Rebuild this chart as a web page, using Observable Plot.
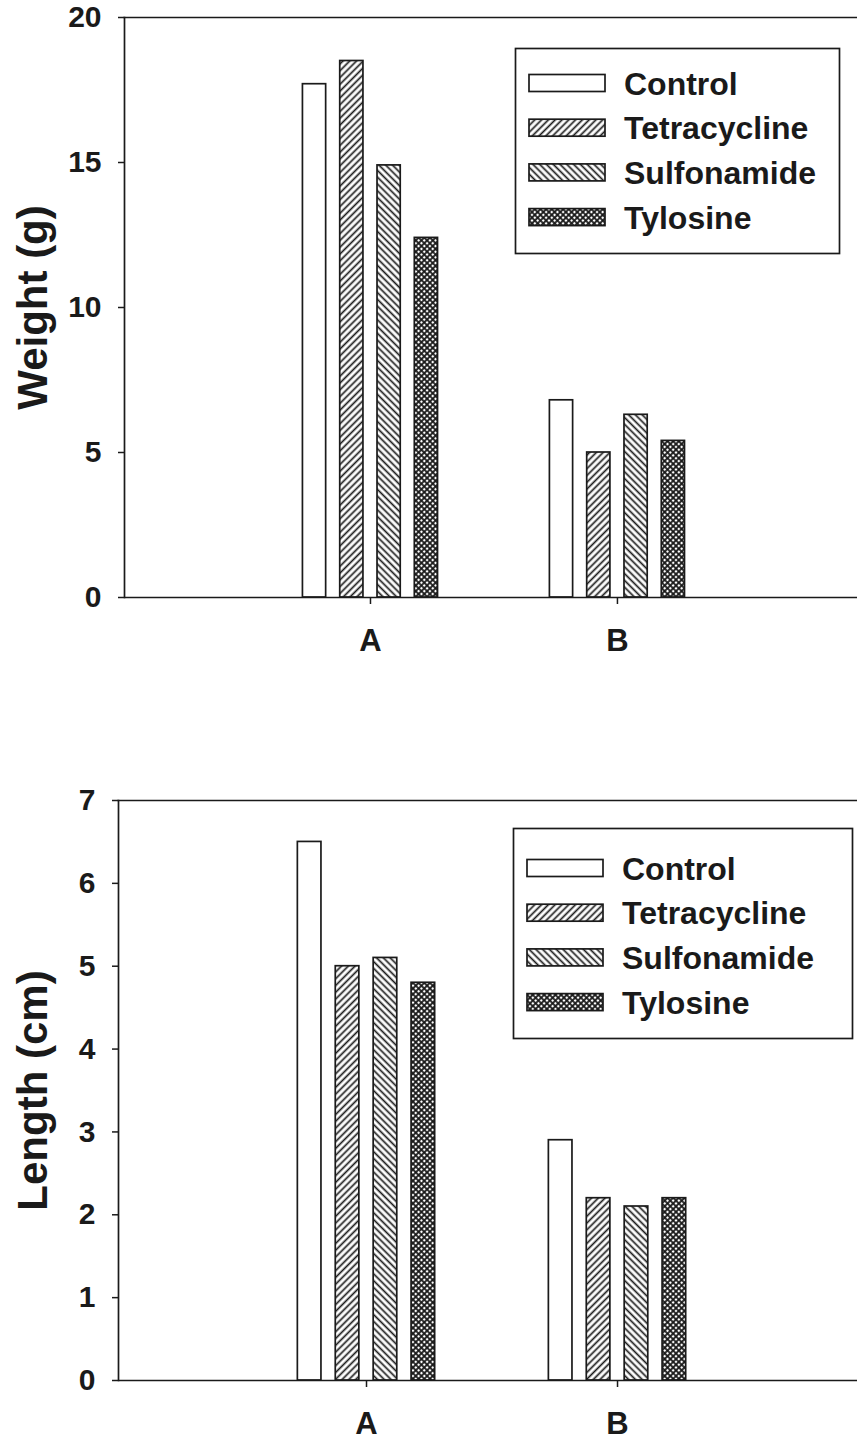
<!DOCTYPE html>
<html><head><meta charset="utf-8">
<script src="https://cdn.jsdelivr.net/npm/d3@7"></script>
<script src="https://cdn.jsdelivr.net/npm/@observablehq/plot@0.6"></script>
<style>
body{margin:0;background:#fff;}
#wrap{position:relative;width:857px;height:1444px;overflow:hidden;background:#fff;}
#wrap > svg.plot{position:absolute;left:0;}
#overlay{position:absolute;left:0;top:0;pointer-events:none;}
</style></head><body>
<svg width="0" height="0" style="position:absolute">
<defs>
<pattern id="p-tetra" patternUnits="userSpaceOnUse" width="4.8" height="4.8" patternTransform="rotate(45)">
<rect width="4.8" height="4.8" fill="#fff"/>
<line x1="2.4" y1="-1" x2="2.4" y2="5.8" stroke="#1a1a1a" stroke-width="1.7"/>
</pattern>
<pattern id="p-sulfa" patternUnits="userSpaceOnUse" width="4.8" height="4.8" patternTransform="rotate(-45)">
<rect width="4.8" height="4.8" fill="#fff"/>
<line x1="2.4" y1="-1" x2="2.4" y2="5.8" stroke="#1a1a1a" stroke-width="1.7"/>
</pattern>
<pattern id="p-tylo" patternUnits="userSpaceOnUse" width="4" height="4" patternTransform="rotate(45)">
<rect width="4" height="4" fill="#1a1a1a"/>
<circle cx="2" cy="2" r="1.25" fill="#fff"/>
</pattern>
</defs></svg>
<div id="wrap"></div>
<script>
// ---- data ----
const groups = ["A", "B"];
const treatments = ["Control", "Tetracycline", "Sulfonamide", "Tylosine"];
const weightA = [17.7, 18.5, 14.9, 12.4];
const weightB = [6.8, 5.0, 6.3, 5.4];
const lengthA = [6.5, 5.0, 5.1, 4.8];
const lengthB = [2.9, 2.2, 2.1, 2.2];
const weightTicks = [0, 5, 10, 15, 20];
const lengthTicks = [0, 1, 2, 3, 4, 5, 6, 7];
const weightLabel = "Weight (g)";
const lengthLabel = "Length (cm)";

const fills = ["#fff", "url(#p-tetra)", "url(#p-sulfa)", "url(#p-tylo)"];
const ink = "#1a1a1a";
const font = "'Liberation Sans', Arial, Helvetica, sans-serif";

function table(valsA, valsB) {
  const rows = [];
  groups.forEach((g, gi) => {
    const vals = gi === 0 ? valsA : valsB;
    treatments.forEach((t, ti) => rows.push({group: g, gi, treatment: t, ti, value: vals[ti]}));
  });
  return rows;
}

function chart({valsA, valsB, ticks, height, marginTop, marginBottom, marginLeft, xDomain, label, titleDx}) {
  const data = table(valsA, valsB);
  const pitch = 0.151, bw = 0.094;
  return Plot.plot({
    width: 857, height, marginTop, marginBottom, marginLeft, marginRight: 0,
    style: {fontFamily: font, fontWeight: "bold", color: ink, background: "transparent", overflow: "visible"},
    x: {type: "linear", domain: xDomain, axis: null},
    y: {domain: [ticks[0], ticks[ticks.length - 1]], axis: null},
    color: {type: "ordinal", domain: treatments, range: fills},
    marks: [
      Plot.rectY(data, {
        x1: d => d.gi + (d.ti - 1.5) * pitch - bw / 2,
        x2: d => d.gi + (d.ti - 1.5) * pitch + bw / 2,
        y1: 0, y2: "value", fill: "treatment", stroke: ink, strokeWidth: 1.7
      }),
      Plot.ruleY([0], {stroke: ink, strokeWidth: 1.7}),
      Plot.frame({anchor: "left", stroke: ink, strokeWidth: 1.7}),
      Plot.frame({anchor: "top", stroke: ink, strokeWidth: 1.7}),
      Plot.axisY({ticks, tickSize: 6, tickPadding: 17, fontSize: 30, fontWeight: "bold", label: null, strokeWidth: 1.5, tickFormat: d => String(d)}),
      Plot.axisX({ticks: groups.map((g, i) => i), tickFormat: i => groups[i], tickSize: 7, tickPadding: 24, fontSize: 31, fontWeight: "bold", label: null, strokeWidth: 1.5}),
      Plot.text([label], {text: d => d, frameAnchor: "left", textAnchor: "middle", rotate: -90, dx: titleDx, fontSize: 42, fontWeight: "bold", fill: ink})
    ]
  });
}

const wrap = document.getElementById("wrap");
const top1 = chart({valsA: weightA, valsB: weightB, ticks: weightTicks, height: 700, marginTop: 17, marginBottom: 103, marginLeft: 124, xDomain: [-0.996, 1.972], label: weightLabel, titleDx: -91});
top1.classList.add("plot"); top1.style.top = "0px";
wrap.appendChild(top1);
const bot = chart({valsA: lengthA, valsB: lengthB, ticks: lengthTicks, height: 744, marginTop: 100, marginBottom: 64, marginLeft: 118, xDomain: [-0.988, 1.956], label: lengthLabel, titleDx: -85});
bot.classList.add("plot"); bot.style.top = "700px";
wrap.appendChild(bot);

// ---- legends ----
const overlay = d3.select(wrap).append("svg").attr("id", "overlay").attr("width", 857).attr("height", 1444);
const legends = [{x: 515, y: 48, w: 324, h: 205}, {x: 513, y: 828, w: 339, h: 210}];
legends.forEach((L, li) => {
  const g = overlay.append("g").attr("transform", `translate(${L.x},${L.y})`);
  g.append("rect").attr("x", 0.5).attr("y", 0.5).attr("width", L.w).attr("height", L.h)
    .attr("fill", "#fff").attr("stroke", ink).attr("stroke-width", 1.7);
  const first = li === 0 ? 35 : 40;
  treatments.forEach((t, i) => {
    const cy = first + i * 44.7;
    g.append("rect").attr("x", 14).attr("y", cy - 8.5).attr("width", 76).attr("height", 17)
      .attr("fill", fills[i]).attr("stroke", ink).attr("stroke-width", 1.7);
    g.append("text").attr("x", 109).attr("y", cy).attr("dy", "0.36em")
      .attr("font-family", font).attr("font-weight", "bold").attr("font-size", 32).attr("fill", ink)
      .text(t);
  });
});
</script>
</body></html>
